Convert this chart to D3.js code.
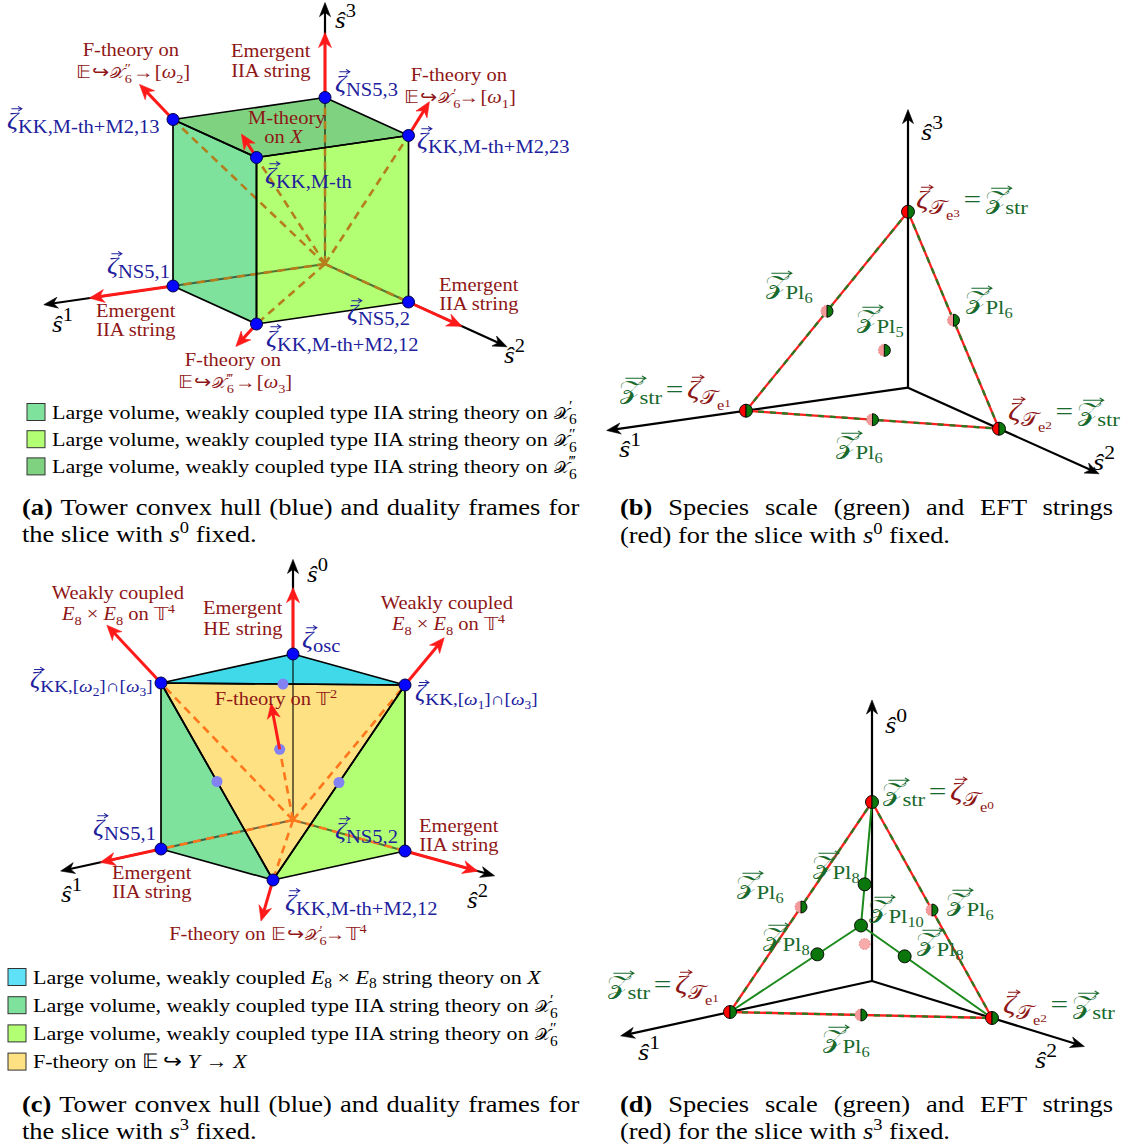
<!DOCTYPE html>
<html><head><meta charset="utf-8">
<script src="https://cdn.jsdelivr.net/npm/d3@7"></script>
<style>body{margin:0;background:#fff}svg{display:block}</style>
</head><body>
<svg id="fig" width="1129" height="1146"></svg>
<script>
// ================= DATA =================
// Panel (a): slice with s^0 fixed, coordinates (s1, s2, s3)
const towerNamesA = ["NS5,1", "NS5,2", "NS5,3", "KK,M-th+M2,12", "KK,M-th+M2,13", "KK,M-th+M2,23", "KK,M-th"];
const towerPtsA = [[1,0,0],[0,1,0],[0,0,1],[1,1,0],[1,0,1],[0,1,1],[1,1,1]];
const facesA = [[0,3,6,4],[3,1,5,6],[4,6,5,2]];           // IIA on X6', X6'', X6'''
const frameArrowsA = [
  [[0,0,1],[0,0,1.39]], [[1,0,0],[1.55,0,0]], [[0,1,0],[0,1.64,0]],
  [[1,0,1],[1.22,0,1.24]], [[0,1,1],[0,1.25,1.26]], [[1,1,0],[1.35,1.39,0]], [[1,1,1],[1.22,1.22,1.22]]
];
const dashedA = [[1,0,1],[0,1,1],[1,1,0],[1,1,1],[1,0,0],[0,1,0],[0,0,1]];
const interiorA = [[1,0,0],[0,1,0],[0,0,1]];
const axisLenA = [1.85, 2.18, 1.57];

// Panel (b): species polytope, slice with s^0 fixed (s1, s2, s3)
const stringPtsB = [[1,0,0],[0,1,0],[0,0,1]];
const pl6PtsB = [[0.5,0,0.5],[0,0.5,0.5],[0.5,0.5,0]];
const pl5PtsB = [[1/3,1/3,1/3]];
const axisLenB = [1.86, 2.1, 1.58];

// Panel (c): slice with s^3 fixed, coordinates (s1, s2, s0)
const towerNamesC = ["osc", "KK,[ω2]∩[ω3]", "KK,[ω1]∩[ω3]", "NS5,1", "NS5,2", "KK,M-th+M2,12"];
const towerPtsC = [[0,0,1],[1,0,1],[0,1,1],[1,0,0],[0,1,0],[1,1,0]];
const facesC = [[0,1,2],[3,5,1],[4,5,2],[1,2,5]];          // E8xE8, IIA X6', IIA X6'', F-theory
const faintPtsC = [[0.5,0.5,1],[1,0.5,0.5],[0.5,1,0.5],[2/3,2/3,2/3]];
const frameArrowsC = [
  [[0,0,1],[0,0,1.4]], [[1,0,1],[1.41,0,1.42]], [[0,1,1],[0,1.35,1.35]],
  [[1,0,0],[1.46,0,0]], [[0,1,0],[0,1.65,0]], [[1,1,0],[1.6,1.6,-0.03]], [[2/3,2/3,2/3],[1.1,1.1,1.1]]
];
const dashedC = [[1,0,1],[0,1,1],[1,1,0],[2/3,2/3,2/3],[1,0,0],[0,1,0]];
const interiorC = [[1,0,0],[0,1,0],[0,0,1]];
const axisLenC = [1.76, 1.8, 1.57];

// Panel (d): species polytope, slice with s^3 fixed (s1, s2, s0)
const stringPtsD = [[1,0,0],[0,1,0],[0,0,1]];
const pl6PtsD = [[0.5,0,0.5],[0,0.5,0.5],[0.5,0.5,0]];
const pl8PtsD = [[2/3,1/3,1/3],[1/3,2/3,1/3],[1/3,1/3,2/3]];
const pl10PtsD = [[0.5,0.5,0.5]];
const eftPtsD = [[1/3,1/3,1/3]];
const axisLenD = [1.77, 1.77, 1.57];

// ================= STYLE =================
const FONT = "'Liberation Serif','Times New Roman',serif";
const BLUE = "#20209c", DRED = "#8e1616", DGREEN = "#18692c";
const faceColorsA = ["#7ee29c", "#b2ff73", "#7fd27f"];
const faceColorsC = ["#40d9e9", "#7ee29c", "#b2ff73", "#fee183"];
const legendColorsC = ["#5fe2f8", "#7ee29c", "#b2ff73", "#fee183"];

const svg = d3.select("#fig");
svg.append("rect").attr("width", 1129).attr("height", 1146).attr("fill", "#fff");

function makeProj(o, e1, e2, e3) {
  const B = [e1, e2, e3];
  const fx = B.map(e => d3.scaleLinear().domain([0, 1]).range([0, e[0]]));
  const fy = B.map(e => d3.scaleLinear().domain([0, 1]).range([0, e[1]]));
  return p => [o[0] + fx[0](p[0]) + fx[1](p[1]) + fx[2](p[2]),
               o[1] + fy[0](p[0]) + fy[1](p[1]) + fy[2](p[2])];
}

function seg(g, a, b) {
  return g.append("line").attr("x1", a[0]).attr("y1", a[1]).attr("x2", b[0]).attr("y2", b[1]);
}
function arrow(g, a, b, st) {
  const dx = b[0] - a[0], dy = b[1] - a[1], L = Math.hypot(dx, dy);
  const ux = dx / L, uy = dy / L, nx = -uy, ny = ux;
  const bx = b[0] - ux * st.len, by = b[1] - uy * st.len;
  const mx = b[0] - ux * st.len * 0.7, my = b[1] - uy * st.len * 0.7;
  seg(g, a, [b[0] - ux * st.len * 0.6, b[1] - uy * st.len * 0.6])
    .attr("stroke", st.color).attr("stroke-width", st.w);
  g.append("path")
    .attr("d", `M${b[0]},${b[1]}L${bx + nx * st.hw},${by + ny * st.hw}L${mx},${my}L${bx - nx * st.hw},${by - ny * st.hw}Z`)
    .attr("fill", st.color).attr("stroke", st.color).attr("stroke-width", 0.6).attr("stroke-linejoin", "round");
}
const AXIS = {color: "#000", w: 2.2, len: 14, hw: 5.5};
const RED = {color: "#ff1a1a", w: 3, len: 15, hw: 6.5};

// ---------- math text ----------
const R = (t, o = {}) => Object.assign({t}, o);
function mathLabel(parent, x, y, runs, o = {}) {
  const base = o.size || 18, sx = o.sx || 1.14;
  const g = parent.append("g");
  const inner = g.append("g").attr("transform", `scale(${sx},1)`);
  const text = inner.append("text").attr("x", 0).attr("y", 0)
    .attr("fill", o.color || "#000").style("font-family", FONT);
  let cur = 0, idx = 0, prev = null, spaces = 0;
  const vecs = [];
  for (const r of runs) {
    const fs = base * (r.s || 1), off = (r.dy || 0) * base;
    const ts = text.append("tspan").attr("font-size", fs).attr("dy", off - cur).text(r.t);
    cur = off;
    if (r.it) ts.attr("font-style", "italic");
    if (r.b) ts.attr("font-weight", "bold");
    if (r.c) ts.attr("fill", r.c);
    let dx = r.dx || 0;
    if (r.stack && prev) dx -= prev.getComputedTextLength();
    if (dx) ts.attr("dx", dx);
    if (r.vec) vecs.push({idx, fs, off, c: r.c || o.color || "#000"});
    idx += r.t.length;
    spaces += (r.t.match(/ /g) || []).length;
    prev = ts.node();
  }
  const tn = text.node();
  for (const v of vecs) {
    const a = tn.getStartPositionOfChar(v.idx), b = tn.getEndPositionOfChar(v.idx);
    const w = b.x - a.x, sh = v.fs * 0.1;
    const x0 = a.x + w * 0.15 + sh, x1 = b.x + sh + 1, yy = v.off - v.fs * 0.8;
    inner.append("path")
      .attr("d", `M${x0},${yy}H${x1}M${x1 - 3.4},${yy - 2.4}L${x1},${yy}L${x1 - 3.4},${yy + 2.4}`)
      .attr("fill", "none").attr("stroke", v.c).attr("stroke-width", 0.95);
  }
  let bb = tn.getBBox();
  if (o.justify && spaces) {
    const ws = (o.justify / sx - bb.width) / spaces;
    text.attr("word-spacing", ws);
    bb = tn.getBBox();
  }
  let tx = x;
  if (o.anchor === "middle") tx = x - (bb.x + bb.width / 2) * sx;
  else if (o.anchor === "end") tx = x - (bb.x + bb.width) * sx;
  g.attr("transform", `translate(${tx},${y})`);
  return g;
}

const zetaRuns = sub => [R("ζ", {it: 1, s: 1.33, dy: -0.28, vec: 1}), ...sub];
const omegaSub = n => [R("ω", {it: 1}), R(n, {s: 0.7, dy: 0.25})];
const hatS = n => [R("ŝ", {it: 1, s: 1.33}), R(n, {dy: -0.6})];
const calX = (pr, k = 0.86) => [R("𝒳", {s: k, dx: 1}), R("6", {s: 0.7, dy: 0.3, dx: -1}), R(pr, {s: 0.72, dy: -0.36, stack: 1})];
const fibRuns = (pr, tail) => [R("𝔼"), R("↪", {dx: 1}), ...calX(pr), R("→", {dx: 2}), ...tail];
const wTail = n => [R("[", {dx: 1}), ...omegaSub(n), R("]")];
const e8Runs = [R("E", {it: 1}), R("8", {s: 0.7, dy: 0.25}), R(" × "), R("E", {it: 1}), R("8", {s: 0.7, dy: 0.25})];

// species labels
const zPl = n => [R("𝒵", {s: 1.3, vec: 1, c: DGREEN}), R("Pl", {dy: 0.3, dx: -2, c: DGREEN}), R(n, {s: 0.72, dy: 0.55, c: DGREEN})];
const zStr = (dx = 0) => [R("𝒵", {s: 1.3, vec: 1, c: DGREEN, dx}), R("str", {dy: 0.3, dx: -2, c: DGREEN})];
const zTau = (n, dx = 0) => [R("ζ", {it: 1, s: 1.37, vec: 1, c: DRED, dx}), R("𝒯", {dy: 0.3, c: DRED}),
  R("e", {s: 0.72, dy: 0.62, c: DRED}), R(n, {s: 0.58, dy: 0.45, c: DRED})];
const EQ = R("=", {s: 1.37, dx: 3, c: DGREEN});

// ---------- panel drawers ----------
function poly(P, pts) { return "M" + pts.map(p => P(p).join(",")).join("L") + "Z"; }

function drawHull(g, P, pts, faces, colors, axisLen, interior, dashed, dashColor, faint, arrows) {
  const O = P([0, 0, 0]);
  const unit = [[1,0,0],[0,1,0],[0,0,1]];
  axisLen.forEach((l, i) => arrow(g, O, P(unit[i].map(v => v * l)), AXIS));
  faces.forEach((f, i) => g.append("path").attr("d", poly(P, f.map(k => pts[k]))).attr("fill", colors[i]));
  interior.forEach(p => seg(g, O, P(p)).attr("stroke", "#000").attr("stroke-opacity", 0.55).attr("stroke-width", 2));
  dashed.forEach(p => seg(g, O, P(p)).attr("stroke", dashColor).attr("stroke-width", 2.6)
    .attr("stroke-dasharray", "8,5.5"));
  faces.forEach(f => g.append("path").attr("d", poly(P, f.map(k => pts[k]))).attr("fill", "none")
    .attr("stroke", "#000").attr("stroke-width", 1.7).attr("stroke-linejoin", "round"));
  faint.forEach(p => g.append("circle").attr("cx", P(p)[0]).attr("cy", P(p)[1]).attr("r", 5.5)
    .attr("fill", "#8282f2"));
  arrows.forEach(([a, b]) => arrow(g, P(a), P(b), RED));
  pts.forEach(p => g.append("circle").attr("cx", P(p)[0]).attr("cy", P(p)[1]).attr("r", 6)
    .attr("fill", "#0606ff").attr("stroke", "#000040").attr("stroke-width", 1));
}

function halfDot(g, c, r, left, right, dashedLeft) {
  const arc = d3.arc().innerRadius(0).outerRadius(r);
  g.append("path").attr("d", arc({startAngle: Math.PI, endAngle: 2 * Math.PI}))
    .attr("transform", `translate(${c[0]},${c[1]})`).attr("fill", left)
    .attr("stroke", dashedLeft ? "#e07070" : "#000").attr("stroke-width", dashedLeft ? 0.8 : 0.9)
    .attr("stroke-dasharray", dashedLeft ? "1.5,1.5" : null);
  g.append("path").attr("d", arc({startAngle: 0, endAngle: Math.PI}))
    .attr("transform", `translate(${c[0]},${c[1]})`).attr("fill", right)
    .attr("stroke", "#000").attr("stroke-width", 0.9);
}

function drawSpecies(g, P, axisLen, verts, pl6, extra) {
  const O = P([0, 0, 0]);
  const unit = [[1,0,0],[0,1,0],[0,0,1]];
  axisLen.forEach((l, i) => arrow(g, O, P(unit[i].map(v => v * l)), AXIS));
  for (let i = 0; i < verts.length; i++) for (let j = i + 1; j < verts.length; j++) {
    seg(g, P(verts[i]), P(verts[j])).attr("stroke", "#ff2020").attr("stroke-width", 2.3);
    seg(g, P(verts[i]), P(verts[j])).attr("stroke", "#2a7a22").attr("stroke-width", 2.3).attr("stroke-dasharray", "6,6");
  }
  if (extra) extra(g);
  pl6.forEach(p => halfDot(g, P(p), 6, "#f49a9a", "#0b760b", true));
  verts.forEach(p => halfDot(g, P(p), 6.5, "#ff0000", "#0b760b", false));
}

// ================= PANEL (a) =================
const gA = svg.append("g");
const PA = makeProj([325, 264], [-152, 22], [83.5, 38], [0, -166.5]);
drawHull(gA, PA, towerPtsA, facesA, faceColorsA, axisLenA, interiorA, dashedA, "#b57d1c", [], frameArrowsA);
mathLabel(gA, 335, 28, hatS("3"));
mathLabel(gA, 52, 332, hatS("1"));
mathLabel(gA, 504, 363, hatS("2"));
const redA = [
  [131, 56, [R("F-theory on")]], [133, 78, fibRuns("″", wTail("2"))],
  [271, 57, [R("Emergent")]], [271, 77, [R("IIA string")]],
  [459, 81, [R("F-theory on")]], [460, 103, fibRuns("′", wTail("1"))],
  [287, 124, [R("M-theory")]], [284, 143, [R("on "), R("X", {it: 1})]],
  [136, 317, [R("Emergent")]], [136, 336, [R("IIA string")]],
  [479, 291, [R("Emergent")]], [479, 310, [R("IIA string")]],
  [233, 366, [R("F-theory on")]], [235, 388, fibRuns("‴", wTail("3"))]
];
redA.forEach(([x, y, r]) => mathLabel(gA, x, y, r, {anchor: "middle", color: DRED}));
const posA = [[107, 278], [347, 325], [335, 96], [266, 351], [7, 133], [417, 153], [265, 188]];
towerNamesA.forEach((n, i) => mathLabel(gA, posA[i][0], posA[i][1], zetaRuns([R(n)]), {color: BLUE}));

// legend (a)
const legendA = [
  [R("Large volume, weakly coupled type IIA string theory on "), ...calX("′", 0.82)],
  [R("Large volume, weakly coupled type IIA string theory on "), ...calX("″", 0.82)],
  [R("Large volume, weakly coupled type IIA string theory on "), ...calX("‴", 0.82)]
];
legendA.forEach((r, i) => {
  const cy = 412 + i * 27.2;
  gA.append("rect").attr("x", 27).attr("y", cy - 8.5).attr("width", 18).attr("height", 17)
    .attr("fill", faceColorsA[i]).attr("stroke", "#333").attr("stroke-width", 1);
  mathLabel(gA, 52, cy + 6.5, r, {size: 19.5, sx: 1.13});
});
mathLabel(gA, 22, 515, [R("(a)", {b: 1}), R(" Tower convex hull (blue) and duality frames for")], {size: 23, sx: 1.15, justify: 558});
mathLabel(gA, 22, 542, [R("the slice with "), R("s", {it: 1}), R("0", {s: 0.7, dy: -0.4}), R(" fixed.")], {size: 23, sx: 1.15});

// ================= PANEL (b) =================
const gB = svg.append("g");
const PB = makeProj([908, 387.7], [-162, 23], [91, 41], [0, -176]);
drawSpecies(gB, PB, axisLenB, stringPtsB, [...pl6PtsB, ...pl5PtsB]);
const SXS = 1.2;
mathLabel(gB, 921, 140, hatS("3"), {sx: SXS});
mathLabel(gB, 619, 457, hatS("1"), {sx: SXS});
mathLabel(gB, 1093, 470, hatS("2"), {sx: SXS});
const labB = [
  [916, 208, [...zTau("3"), EQ, ...zStr(3)]],
  [765, 293, zPl("6")], [856, 327, zPl("5")], [965, 308, zPl("6")],
  [619, 398, [...zStr(), EQ, ...zTau("1", 3)]],
  [1008, 420, [...zTau("2"), EQ, ...zStr(3)]],
  [835, 453, zPl("6")]
];
labB.forEach(([x, y, r]) => mathLabel(gB, x, y, r, {size: 19, sx: SXS}));
mathLabel(gB, 620, 515, [R("(b)", {b: 1}), R(" Species scale (green) and EFT strings")], {size: 23, sx: 1.15, justify: 493});
mathLabel(gB, 620, 543, [R("(red) for the slice with "), R("s", {it: 1}), R("0", {s: 0.7, dy: -0.4}), R(" fixed.")], {size: 23, sx: 1.15});

// ================= PANEL (c) =================
const gC = svg.append("g");
const PC = makeProj([293, 820], [-132, 29], [112, 31], [0, -166]);
drawHull(gC, PC, towerPtsC, facesC, faceColorsC, axisLenC, interiorC, dashedC, "#ff771c", faintPtsC, frameArrowsC);
mathLabel(gC, 307, 582, hatS("0"));
mathLabel(gC, 61, 902, hatS("1"));
mathLabel(gC, 467, 908, hatS("2"));
const redC = [
  [118, 599, [R("Weakly coupled")]], [118, 620, [...e8Runs, R(" on 𝕋"), R("4", {s: 0.7, dy: -0.4})]],
  [243, 614, [R("Emergent")]], [243, 635, [R("HE string")]],
  [447, 609, [R("Weakly coupled")]], [448, 630, [...e8Runs, R(" on 𝕋"), R("4", {s: 0.7, dy: -0.4})]],
  [276, 705, [R("F-theory on 𝕋"), R("2", {s: 0.7, dy: -0.4})]],
  [459, 832, [R("Emergent")]], [459, 851, [R("IIA string")]],
  [152, 879, [R("Emergent")]], [152, 898, [R("IIA string")]],
  [268, 940, [R("F-theory on "), ...fibRuns("′", [R("𝕋"), R("4", {s: 0.7, dy: -0.4})])]]
];
redC.forEach(([x, y, r]) => mathLabel(gC, x, y, r, {anchor: "middle", color: DRED}));
const subC = [
  [R("osc")],
  [R("KK,["), ...omegaSub("2"), R("]∩["), ...omegaSub("3"), R("]")],
  [R("KK,["), ...omegaSub("1"), R("]∩["), ...omegaSub("3"), R("]")],
  [R("NS5,1")], [R("NS5,2")], [R("KK,M-th+M2,12")]
];
const posC = [[302, 652], [30, 692], [415, 705], [93, 840], [335, 843], [285, 915]];
const sizeC = [18, 16.8, 16.8, 18, 18, 18];
subC.forEach((s, i) => mathLabel(gC, posC[i][0], posC[i][1], zetaRuns(s), {color: BLUE, size: sizeC[i]}));

const legendC = [
  [R("Large volume, weakly coupled "), ...e8Runs, R(" string theory on "), R("X", {it: 1})],
  [R("Large volume, weakly coupled type IIA string theory on "), ...calX("′", 0.82)],
  [R("Large volume, weakly coupled type IIA string theory on "), ...calX("″", 0.82)],
  [R("F-theory on 𝔼 ↪ "), R("Y", {it: 1}), R(" → "), R("X", {it: 1})]
];
legendC.forEach((r, i) => {
  const cy = 977 + i * 28.2;
  gC.append("rect").attr("x", 8).attr("y", cy - 8.5).attr("width", 18).attr("height", 17)
    .attr("fill", legendColorsC[i]).attr("stroke", "#333").attr("stroke-width", 1);
  mathLabel(gC, 33, cy + 6.5, r, {size: 19.5, sx: 1.13});
});
mathLabel(gC, 22, 1112, [R("(c)", {b: 1}), R(" Tower convex hull (blue) and duality frames for")], {size: 23, sx: 1.15, justify: 558});
mathLabel(gC, 22, 1139, [R("the slice with "), R("s", {it: 1}), R("3", {s: 0.7, dy: -0.4}), R(" fixed.")], {size: 23, sx: 1.15});

// ================= PANEL (d) =================
const gD = svg.append("g");
const PD = makeProj([872, 981], [-142, 31], [120, 37], [0, -179]);
drawSpecies(gD, PD, axisLenD, stringPtsD, pl6PtsD, g => {
  const c = PD(pl10PtsD[0]);
  stringPtsD.forEach(v => seg(g, c, PD(v)).attr("stroke", "#1b8a1b").attr("stroke-width", 2));
  eftPtsD.forEach(p => g.append("circle").attr("cx", PD(p)[0]).attr("cy", PD(p)[1]).attr("r", 5.5)
    .attr("fill", "#f7abab").attr("stroke", "#e07070").attr("stroke-width", 0.8).attr("stroke-dasharray", "1.5,1.5"));
  [...pl8PtsD, ...pl10PtsD].forEach(p => g.append("circle").attr("cx", PD(p)[0]).attr("cy", PD(p)[1])
    .attr("r", 6.5).attr("fill", "#0b760b").attr("stroke", "#000").attr("stroke-width", 0.9));
});
mathLabel(gD, 885, 733, hatS("0"), {sx: SXS});
mathLabel(gD, 638, 1060, hatS("1"), {sx: SXS});
mathLabel(gD, 1035, 1068, hatS("2"), {sx: SXS});
const labD = [
  [882, 800, [...zStr(), EQ, ...zTau("0", 3)]],
  [812, 873, zPl("8")], [736, 893, zPl("6")], [868, 917, zPl("10")], [946, 910, zPl("6")],
  [762, 945, zPl("8")], [916, 950, zPl("8")],
  [607, 993, [...zStr(), EQ, ...zTau("1", 3)]],
  [1003, 1013, [...zTau("2"), EQ, ...zStr(3)]],
  [822, 1047, zPl("6")]
];
labD.forEach(([x, y, r]) => mathLabel(gD, x, y, r, {size: 19, sx: SXS}));
mathLabel(gD, 620, 1112, [R("(d)", {b: 1}), R(" Species scale (green) and EFT strings")], {size: 23, sx: 1.15, justify: 493});
mathLabel(gD, 620, 1139, [R("(red) for the slice with "), R("s", {it: 1}), R("3", {s: 0.7, dy: -0.4}), R(" fixed.")], {size: 23, sx: 1.15});
</script>
</body></html>
